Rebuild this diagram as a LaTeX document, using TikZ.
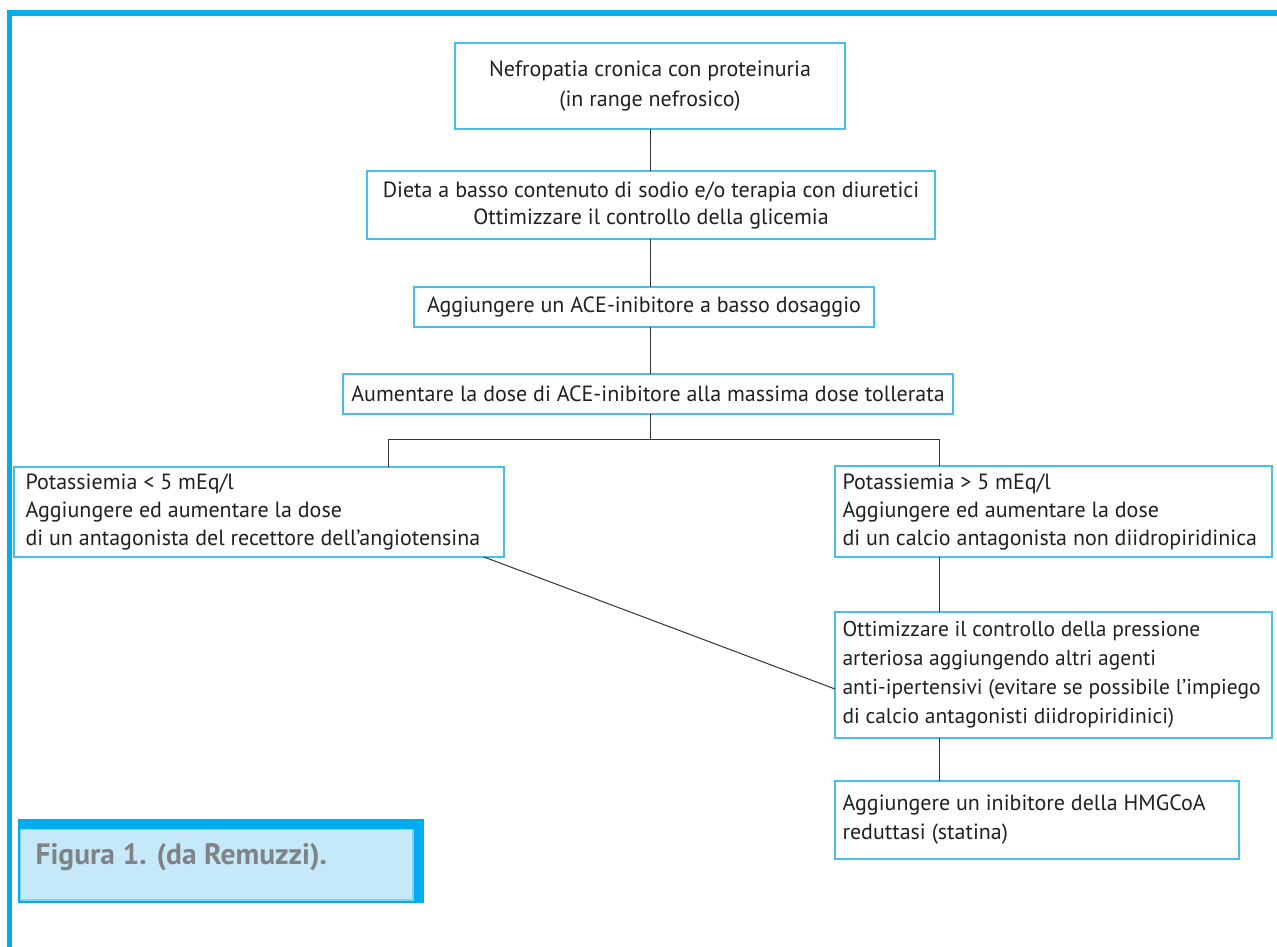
\documentclass[tikz,border=0pt]{standalone}
\usepackage{fontspec}
\setmainfont{PT Sans}
\usetikzlibrary{calc}
\definecolor{framecyan}{HTML}{00AEEF}
\definecolor{boxcyan}{HTML}{45C0EC}
\definecolor{capfill}{HTML}{C6E9F9}
\definecolor{capline}{HTML}{7FD3F3}
\definecolor{txt}{HTML}{231F20}
\definecolor{captxt}{HTML}{808285}
\definecolor{conn}{HTML}{333333}
\begin{document}
\begin{tikzpicture}[x=1pt,y=-1pt,
  every node/.style={font=\fontsize{22}{29}\selectfont, text=txt},
  flowbox/.style={draw=boxcyan, line width=1.3pt, rectangle, inner sep=0pt, outer sep=0pt},
  cbox/.style={flowbox, align=center},
  link/.style={draw=conn, line width=1pt}
]
\useasboundingbox (0,0) rectangle (1277,947);
% frame
\draw[framecyan, line width=5.5pt] (7,12.8) -- (1277,12.8);
\draw[framecyan, line width=5pt] (9.8,10) -- (9.8,947);

% boxes
\node[cbox, minimum width=390pt, minimum height=86pt, font=\fontsize{22}{30}\selectfont] (b1) at (650,86)
  {Nefropatia cronica con proteinuria\\(in range nefrosico)};
\node[cbox, minimum width=568pt, minimum height=68pt, font=\fontsize{22}{27}\selectfont] (b2) at (651,205)
  {Dieta a basso contenuto di sodio e/o terapia con diuretici\\Ottimizzare il controllo della glicemia};
\node[cbox, minimum width=460pt, minimum height=40pt] (b3) at (644,307)
  {Aggiungere un ACE-inibitore a basso dosaggio};
\node[cbox, minimum width=610pt, minimum height=40pt] (b4) at (648,394)
  {Aumentare la dose di ACE-inibitore alla massima dose tollerata};

\node[flowbox, minimum width=490pt, minimum height=90pt] (bl) at (259,512) {};
\node[anchor=west, align=left, font=\fontsize{22}{28}\selectfont] (tl) at ([xshift=8pt]bl.west)
  {Potassiemia < 5 mEq/l\\Aggiungere ed aumentare la dose\\di un antagonista del recettore dell’angiotensina};

\node[flowbox, minimum width=437pt, minimum height=91pt] (br) at (1053.5,511.5) {};
\node[anchor=west, align=left, font=\fontsize{22}{28}\selectfont] (tr) at ([xshift=4pt]br.west)
  {Potassiemia > 5 mEq/l\\Aggiungere ed aumentare la dose\\di un calcio antagonista non diidropiridinica};

\node[flowbox, minimum width=437pt, minimum height=126pt] (bo) at (1053.5,675) {};
\node[anchor=west, align=left, font=\fontsize{21.5}{29}\selectfont] (to) at ([xshift=4pt]bo.west)
  {Ottimizzare il controllo della pressione\\arteriosa aggiungendo altri agenti\\anti-ipertensivi (evitare se possibile l’impiego\\di calcio antagonisti diidropiridinici)};

\node[flowbox, minimum width=404pt, minimum height=78pt] (bh) at (1037,820) {};
\node[anchor=west, align=left] (th) at ([xshift=4pt]bh.west)
  {Aggiungere un inibitore della HMGCoA\\reduttasi (statina)};

% connectors
\coordinate (spine) at (650,0);
\coordinate (bra) at (650,439);
\coordinate (brl) at (388,439);
\coordinate (brr) at (939,439);
\draw[link] (b1.south -| spine) -- (b2.north -| spine);
\draw[link] (b2.south -| spine) -- (b3.north -| spine);
\draw[link] (b3.south -| spine) -- (b4.north -| spine);
\draw[link] (b4.south -| spine) -- (bra);
\draw[link] (brl) -- (brr);
\draw[link] (brl) -- (bl.north -| brl);
\draw[link] (brr) -- (br.north -| brr);
\draw[link] (br.south -| brr) -- (bo.north -| brr);
\draw[link] (bo.south -| brr) -- (bh.north -| brr);
\draw[link] ([xshift=225pt]bl.south) -- ([yshift=-14pt]bo.west);

% caption
\fill[framecyan] (18,819) rectangle (424,903);
\draw[capline, fill=capfill, line width=1.2pt] (20.5,829.5) rectangle (413,900);
\node[anchor=west, text=captxt, font=\fontsize{29.5}{33}\bfseries\selectfont] (cap) at (32,857) {Figura 1. (da Remuzzi).};
\end{tikzpicture}
\end{document}
